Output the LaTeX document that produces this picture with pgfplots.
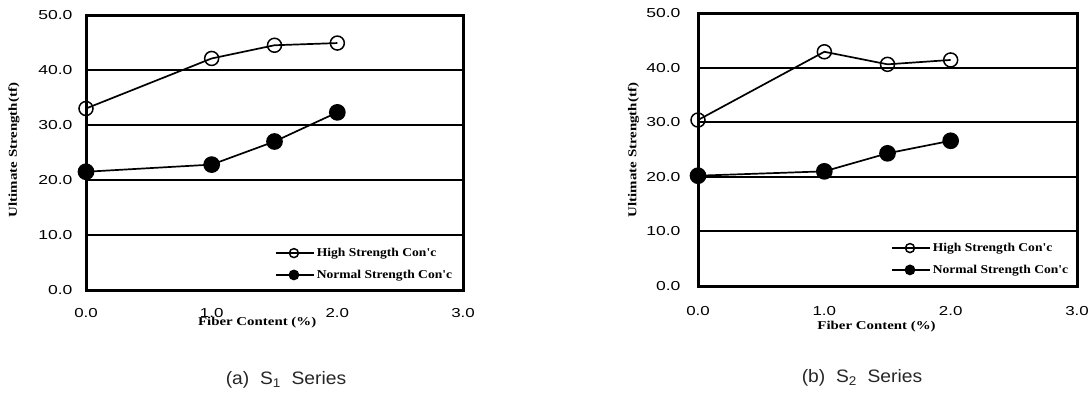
\documentclass[border=0pt]{standalone}
\usepackage{pgfplots}
\pgfplotsset{compat=1.18}
\usepackage{fontspec}
\setmainfont{Liberation Serif}
\setsansfont{Liberation Sans}
\newcommand{\hsc}{High Strength Con\textquotesingle c}
\newcommand{\nsc}{Normal Strength Con\textquotesingle c}
\begin{document}
\begin{tikzpicture}
\path[use as bounding box] (0pt,0pt) rectangle (1091pt,394pt);
\pgfplotsset{
  myax/.style={
    scale only axis, anchor=south west,
    xmin=0, xmax=3, ymin=0, ymax=50,
    xtick={0,1,2,3}, ytick={0,10,20,30,40,50},
    major tick length=0pt,
    ymajorgrids, grid style={line width=2pt, black},
    axis line style={line width=3pt},
    tick label style={font=\fontsize{13}{15}\sffamily},
    /pgf/number format/assume math mode=true,
    xticklabel={\scalebox{1.3}[1]{\pgfmathprintnumber[fixed,fixed zerofill,precision=1]{\tick}}},
    yticklabel={\scalebox{1.35}[1]{\pgfmathprintnumber[fixed,fixed zerofill,precision=1]{\tick}}},
    label style={font=\fontsize{12}{14}\bfseries},
    xlabel={\scalebox{1.24}[1]{Fiber Content (\%)}},
    ylabel={\scalebox{1.24}[1]{Ultimate Strength(tf)}},
    legend style={draw=none, fill=none, font=\fontsize{12}{13}\bfseries,
      cells={anchor=west}, row sep=8pt, inner sep=0pt},
    legend image code/.code={
      \draw[mark repeat=2, mark phase=2, ##1, mark size=4.5pt]
        plot coordinates {(0pt,0pt) (18pt,0pt) (38pt,0pt)};},
  },
  hi/.style={black, line width=1.7pt, mark=o, mark size=7pt,
     mark options={line width=1.5pt, fill=white}},
  no/.style={black, line width=1.7pt, mark=*, mark size=7.5pt,
     mark options={fill=black}},
}
\begin{axis}[myax, at={(86pt,104pt)}, width=377pt, height=275pt,
  yticklabel style={anchor=east, xshift=-10pt},
  xticklabel style={anchor=north, yshift=-15pt},
  xlabel style={at={(axis description cs:0.454,-0.117)}, anchor=center},
  ylabel style={at={(axis description cs:-0.191,0.509)}, anchor=center},
  legend style={at={(axis description cs:0.501,0.16)}, anchor=north west}]
\addplot[hi] coordinates {(0,33.0) (1.0,42.1) (1.5,44.5) (2.0,44.9)};
\addlegendentry{\scalebox{1.13}[1]{\hsc}}
\addplot[no] coordinates {(0,21.5) (1.0,22.8) (1.5,27.0) (2.0,32.3)};
\addlegendentry{\scalebox{1.13}[1]{\nsc}}
\end{axis}
\begin{axis}[myax, at={(698pt,108pt)}, width=379pt, height=273pt,
  yticklabel style={anchor=east, xshift=-14pt},
  xticklabel style={anchor=north, yshift=-17pt},
  xlabel style={at={(axis description cs:0.471,-0.149)}, anchor=center},
  ylabel style={at={(axis description cs:-0.170,0.498)}, anchor=center},
  legend style={at={(axis description cs:0.509,0.165)}, anchor=north west}]
\addplot[hi] coordinates {(0,30.4) (1.0,42.9) (1.5,40.6) (2.0,41.4)};
\addlegendentry{\scalebox{1.13}[1]{\hsc}}
\addplot[no] coordinates {(0,20.2) (1.0,21.0) (1.5,24.3) (2.0,26.6)};
\addlegendentry{\scalebox{1.13}[1]{\nsc}}
\end{axis}
\node[font=\fontsize{18}{20}\sffamily, text=black!85] at (286pt,14pt) {\scalebox{1.07}[1]{(a)\ \ S\textsubscript{1}\ \ Series}};
\node[font=\fontsize{18}{20}\sffamily, text=black!85] at (862pt,16pt) {\scalebox{1.07}[1]{(b)\ \ S\textsubscript{2}\ \ Series}};
\end{tikzpicture}
\end{document}
